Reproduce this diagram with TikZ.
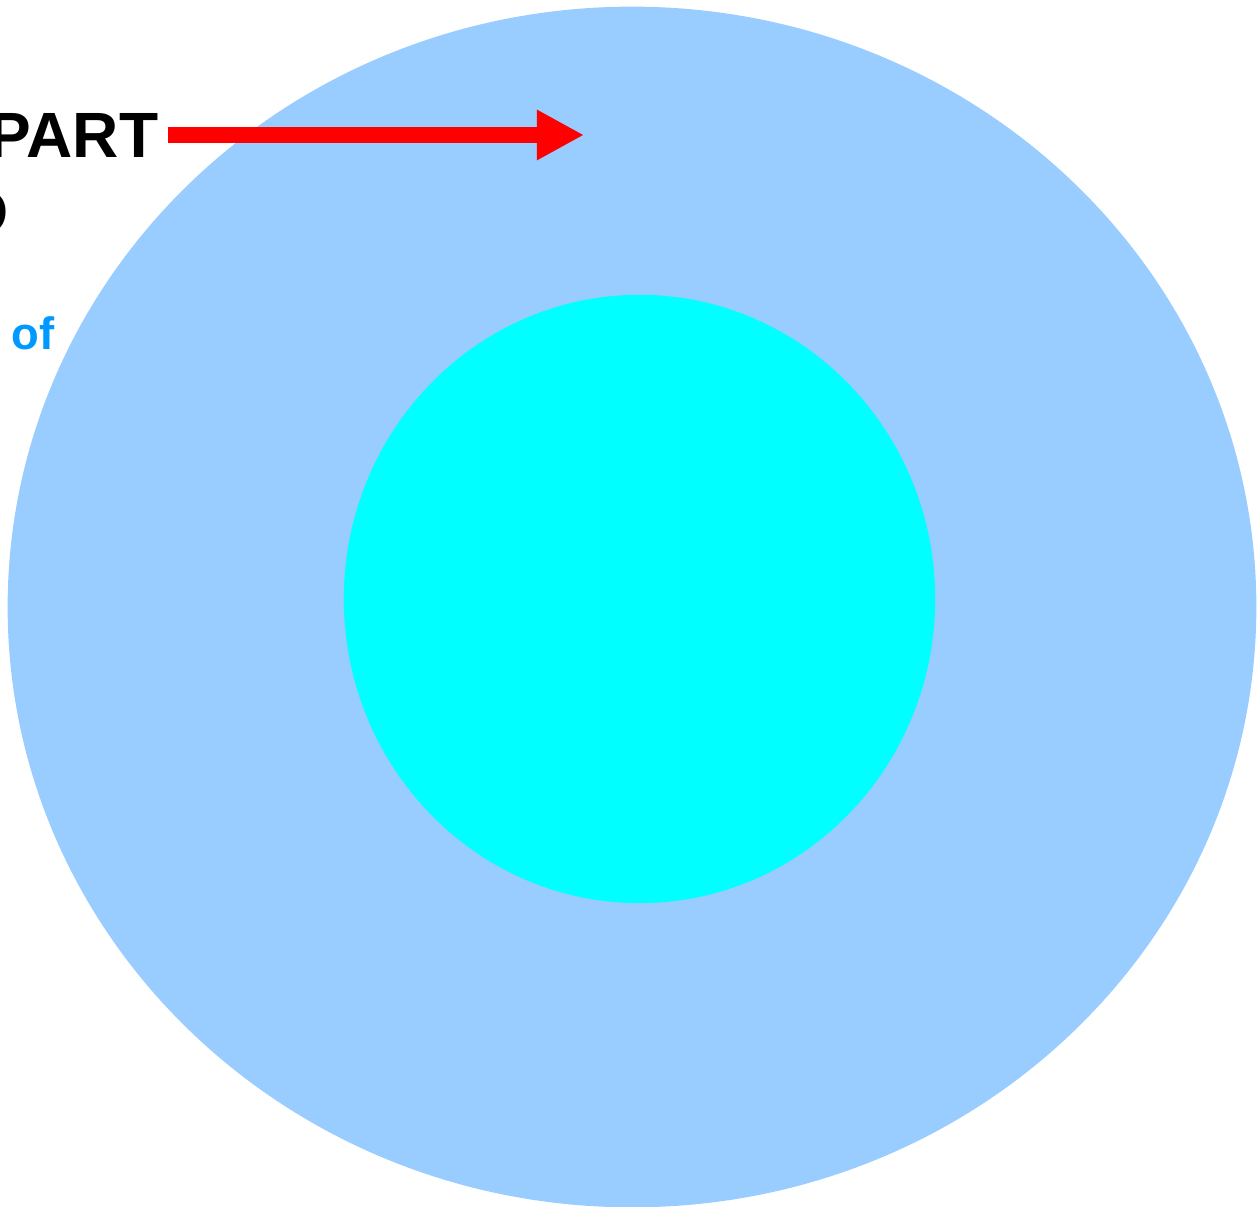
\documentclass[tikz,border=0pt]{standalone}
\usepackage{fontspec}
\setmainfont{Liberation Sans}
\usetikzlibrary{shapes.geometric,arrows.meta}
\definecolor{outerblue}{HTML}{99CCFF}
\definecolor{innercyan}{HTML}{00FFFF}
\definecolor{ofblue}{HTML}{0099FF}
\begin{document}
\begin{tikzpicture}[x=0.01cm,y=-0.01cm,
  disc/.style={ellipse,inner sep=0pt,draw=none},
  bigtext/.style={inner sep=0pt,font=\fontsize{18.2pt}{21pt}\selectfont\bfseries,text=black},
  smalltext/.style={inner sep=0pt,font=\fontsize{12.9pt}{15pt}\selectfont\bfseries,text=ofblue},
  redarrow/.style={draw=red,line width=4.55pt,-{Triangle[length=0.47cm,width=0.47cm]}}]
\useasboundingbox (0,0) rectangle (1257,1207);
\clip (0,0) rectangle (1257,1207);
\node[disc,fill=outerblue,minimum width=12.48cm,minimum height=12.00cm] (outer) at (632,607) {};
\node[disc,fill=innercyan,minimum width=5.91cm,minimum height=6.08cm] (inner) at (639.5,599) {};
\node[bigtext,anchor=base east] (part) at (159,158) {PART};
\node[bigtext,anchor=base east] (line2) at (9,235) {D};
\node[smalltext,anchor=base west] (of) at (11,350) {of};
\coordinate (astart) at (168,135);
\coordinate (aend) at (584,135);
\draw[redarrow] (astart) -- (aend);
\end{tikzpicture}
\end{document}
